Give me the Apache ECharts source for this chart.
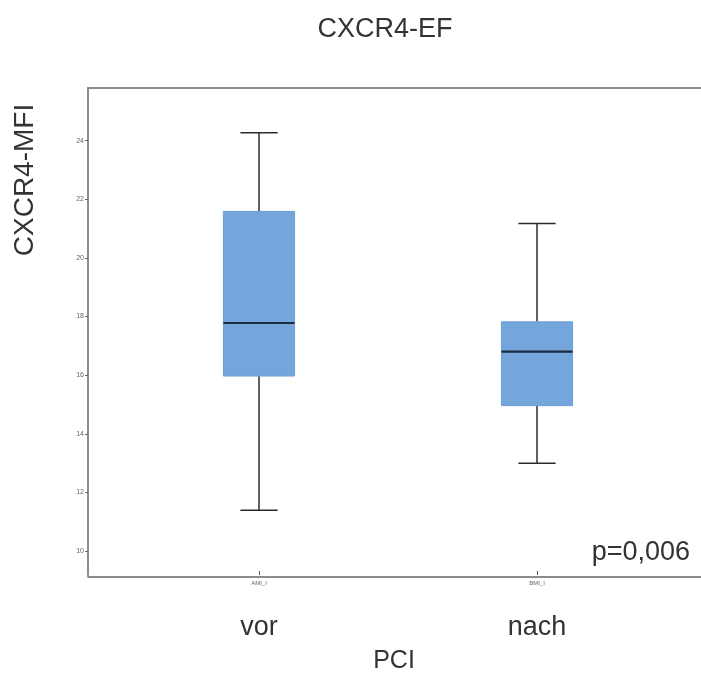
<!DOCTYPE html>
<html>
<head>
<meta charset="utf-8">
<script src="https://cdn.jsdelivr.net/npm/echarts@6/dist/echarts.min.js"></script>
<style>
  html, body { margin: 0; padding: 0; background: #fff; }
  #chart { width: 701px; height: 679px; }
</style>
</head>
<body>
<div id="chart"></div>
<script>
// Group codes on the axis and their readable names below
const categoryCodes = ['AMI_I', 'BMI_I'];
const groupLabels = ['vor', 'nach'];

// Five-number summaries per group
const whiskerLow = [11.39, 12.99];
const q1 = [15.97, 14.96];
const median = [17.78, 16.80];
const q3 = [21.59, 17.82];
const whiskerHigh = [24.27, 21.18];

// Value axis ticks
const yTicks = [10, 12, 14, 16, 18, 20, 22, 24];

const FONT = '"Liberation Sans", Arial, sans-serif';
const FRAME = '#8c8c8c';

const boxData = categoryCodes.map((c, i) => [i, whiskerLow[i], q1[i], median[i], q3[i], whiskerHigh[i]]);

function renderBox(params, api) {
  const x = api.value(0);
  const band = api.size([1, 0])[0];
  const halfBox = band * 0.128;
  const halfCap = band * 0.067;
  const pLow = api.coord([x, api.value(1)]);
  const pQ1 = api.coord([x, api.value(2)]);
  const pMed = api.coord([x, api.value(3)]);
  const pQ3 = api.coord([x, api.value(4)]);
  const pHigh = api.coord([x, api.value(5)]);
  const cx = pMed[0];
  const whiskerStyle = { stroke: '#2b2b2b', lineWidth: 1.5 };
  return {
    type: 'group',
    children: [
      { type: 'line', shape: { x1: cx, y1: pHigh[1], x2: cx, y2: pQ3[1] }, style: whiskerStyle },
      { type: 'line', shape: { x1: cx, y1: pQ1[1], x2: cx, y2: pLow[1] }, style: whiskerStyle },
      { type: 'line', shape: { x1: cx - halfCap, y1: pHigh[1], x2: cx + halfCap, y2: pHigh[1] }, style: whiskerStyle },
      { type: 'line', shape: { x1: cx - halfCap, y1: pLow[1], x2: cx + halfCap, y2: pLow[1] }, style: whiskerStyle },
      { type: 'rect', shape: { x: cx - halfBox, y: pQ3[1], width: halfBox * 2, height: pQ1[1] - pQ3[1] },
        style: { fill: '#75a6db', stroke: '#6d9fd6', lineWidth: 1 } },
      { type: 'line', shape: { x1: cx - halfBox, y1: pMed[1], x2: cx + halfBox, y2: pMed[1] },
        style: { stroke: '#1d2c3e', lineWidth: 2.2 } }
    ]
  };
}

const chart = echarts.init(document.getElementById('chart'));
chart.setOption({
  backgroundColor: '#fff',
  animation: false,
  textStyle: { fontFamily: FONT },
  title: {
    text: 'CXCR4-EF',
    left: 380,
    top: 11,
    textAlign: 'center',
    textStyle: { fontFamily: FONT, fontSize: 27, fontWeight: 'normal', color: '#333' }
  },
  grid: [
    { left: 120, right: 25, top: 88, bottom: 102 },
    { left: 88, right: -4, top: 88, bottom: 102 }
  ],
  xAxis: [
    {
      gridIndex: 0, type: 'category', data: categoryCodes, position: 'bottom',
      axisLine: { show: false },
      axisTick: { show: true, inside: true, length: 4, alignWithLabel: true, lineStyle: { color: '#555' } },
      axisLabel: { fontSize: 6, color: '#666', margin: 5 },
      splitLine: { show: false }
    },
    {
      gridIndex: 0, type: 'category', data: groupLabels, position: 'bottom',
      axisLine: { show: false }, axisTick: { show: false },
      axisLabel: { fontSize: 27, color: '#333', margin: 39, fontFamily: FONT },
      name: 'PCI', nameLocation: 'middle', nameGap: 74,
      nameTextStyle: { fontSize: 25, color: '#333', fontFamily: FONT, padding: [0, 8, 0, 0] },
      splitLine: { show: false }
    },
    {
      gridIndex: 1, type: 'value', position: 'bottom',
      axisLine: { show: true, lineStyle: { color: FRAME, width: 2 } },
      axisTick: { show: false }, axisLabel: { show: false }, splitLine: { show: false }
    },
    {
      gridIndex: 1, type: 'value', position: 'top',
      axisLine: { show: true, lineStyle: { color: FRAME, width: 2 } },
      axisTick: { show: false }, axisLabel: { show: false }, splitLine: { show: false }
    }
  ],
  yAxis: [
    {
      gridIndex: 0, type: 'value', min: 9.18, max: 25.8, offset: 32,
      axisLine: { show: true, lineStyle: { color: FRAME, width: 2 } },
      axisTick: { show: true, length: 3, customValues: yTicks, lineStyle: { color: '#666' } },
      axisLabel: { customValues: yTicks, fontSize: 7, color: '#666', margin: 4 },
      splitLine: { show: false }
    },
    { gridIndex: 1, type: 'value', show: false }
  ],
  series: [
    {
      type: 'custom',
      xAxisIndex: 0, yAxisIndex: 0,
      renderItem: renderBox,
      encode: { x: 0, y: [1, 2, 3, 4, 5] },
      data: boxData
    }
  ],
  graphic: [
    {
      type: 'text', x: 25, y: 180, rotation: Math.PI / 2,
      style: { text: 'CXCR4-MFI', font: '28px ' + FONT, fill: '#333', textAlign: 'center', textVerticalAlign: 'middle' }
    },
    {
      type: 'text', x: 690, y: 553,
      style: { text: 'p=0,006', font: '27px ' + FONT, fill: '#333', textAlign: 'right', textVerticalAlign: 'middle' }
    }
  ]
});
</script>
</body>
</html>
